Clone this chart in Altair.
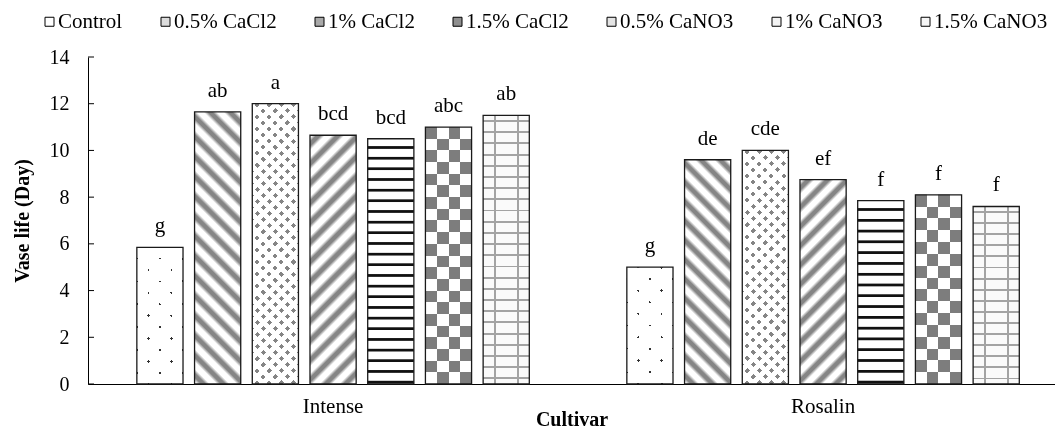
import altair as alt
import pandas as pd

# ---------------- data ----------------
cultivars = ["Intense", "Rosalin"]
treatments = ["Control", "0.5% CaCl2", "1% CaCl2", "1.5% CaCl2",
              "0.5% CaNO3", "1% CaNO3", "1.5% CaNO3"]
intense_values = [5.85, 11.65, 12.0, 10.65, 10.5, 11.0, 11.5]
rosalin_values = [5.0, 9.6, 10.0, 8.75, 7.85, 8.1, 7.6]
intense_letters = ["g", "ab", "a", "bcd", "bcd", "abc", "ab"]
rosalin_letters = ["g", "de", "cde", "ef", "f", "f", "f"]
y_ticks = [0, 2, 4, 6, 8, 10, 12, 14]
legend_fills = ["#ffffff", "#dcdcdc", "#a9a9a9", "#8f8f8f", "#e4e4e4", "#f3f3f3", "#f6f6f6"]

rows = []
for c, vals, lets in [("Intense", intense_values, intense_letters),
                      ("Rosalin", rosalin_values, rosalin_letters)]:
    for t, v, l in zip(treatments, vals, lets):
        rows.append({"Cultivar": c, "Treatment": t, "Value": v, "Letter": l})
df = pd.DataFrame(rows)
df_ticks = pd.DataFrame({"Value": y_ticks})

# ---------------- layout ----------------
W, H = 967, 327
Y_MAX = 14
X_PI, X_PO, X_ALIGN = 0.1755, 0.0745, 0.59
O_PI, O_PO = 0.2, 0.1
FONT = "Liberation Serif"

step = W / (len(cultivars) - X_PI + 2 * X_PO)
band = step * (1 - X_PI)
o_step = band / (len(treatments) - O_PI + 2 * O_PO)
BAR_W = o_step * (1 - O_PI)

# ---------------- pattern helpers (gradient textures) ----------------
def periodic_stops(n, profile):
    n = max(1, int(n))
    stops = []
    for i in range(n):
        for off, col in profile:
            stops.append({"offset": round((i + off) / n, 6), "color": col})
    return stops


def lin(x1, y1, x2, y2, stops):
    return {"gradient": "linear", "x1": x1, "y1": y1, "x2": x2, "y2": y2, "stops": stops}


def diag(w, h, n, profile, down=True):
    k = (w + h) / (w * w + h * h)
    if down:   # "\" lines
        return lin(0, 1, w * k, 1 - h * k, periodic_stops(n, profile))
    return lin(0, 0, w * k, h * k, periodic_stops(n, profile))  # "/" lines


def rows_g(n, profile):
    return lin(0, 0, 0, 1, periodic_stops(n, profile))


def cols_g(n, profile):
    return lin(0, 0, 1, 0, periodic_stops(n, profile))


def thin(line, bg, frac):
    a, b = 0.5 - frac / 2, 0.5 + frac / 2
    return [(0, bg), (a, bg), (a, line), (b, line), (b, bg), (1, bg)]


def soft(line, bg):
    return [(0, bg), (0.12, bg), (0.34, line), (0.56, line), (0.78, bg), (1, bg)]


HALF = [(0, "#000000"), (0.5, "#000000"), (0.5, "#ffffff"), (1, "#ffffff")]


def patterns(t, w, h):
    if t == "Control":
        n = round((w + h) / 22)
        f = 2.6 / ((w + h) / n)
        return [dict(fill=diag(w, h, n, thin("#333333", "#ffffff", f), True)),
                dict(fill=diag(w, h, n, thin("#333333", "#ffffff", f), False), blend="lighten")]
    if t == "0.5% CaCl2":
        return [dict(fill=diag(w, h, round((w + h) / 20), soft("#858585", "#ffffff"), True))]
    if t == "1% CaCl2":
        n = round((w + h) / 12)
        return [dict(fill=diag(w, h, n, thin("#858585", "#ffffff", 0.42), True)),
                dict(fill=diag(w, h, n, thin("#858585", "#ffffff", 0.42), False), blend="lighten")]
    if t == "1.5% CaCl2":
        return [dict(fill=diag(w, h, round((w + h) / 20), soft("#858585", "#ffffff"), False))]
    if t == "0.5% CaNO3":
        prof = [(0, "#ffffff"), (0.66, "#ffffff"), (0.7, "#555555"), (0.74, "#111111"),
                (0.9, "#111111"), (0.94, "#555555"), (0.98, "#ffffff"), (1, "#ffffff")]
        return [dict(fill=rows_g(round(h / 10.7), prof))]
    if t == "1% CaNO3":
        return [dict(fill=cols_g(round(w / 23), HALF)),
                dict(fill=rows_g(round(h / 23), HALF), blend="difference"),
                dict(fill="#ffffff", fillOpacity=0.49)]
    if t == "1.5% CaNO3":
        return [dict(fill=rows_g(round(h / 11), thin("#a3a3a3", "#fafafa", 0.17))),
                dict(fill=cols_g(round(w / 23), thin("#a3a3a3", "#ffffff", 0.08)), blend="darken")]
    return []


# ---------------- encodings ----------------
x_axis = alt.Axis(ticks=False, domainColor="black", domainWidth=1, labelAngle=0,
                  labelFont=FONT, labelFontSize=21, labelColor="black", labelPadding=11,
                  title="Cultivar", titleFont=FONT, titleFontSize=20, titleFontWeight="bold",
                  titleColor="black", titlePadding=-7, grid=False)
y_axis = alt.Axis(values=y_ticks, ticks=False, domainColor="black", domainWidth=1,
                  labelFont=FONT, labelFontSize=20, labelColor="black", labelPadding=19,
                  title="Vase life (Day)", titleFont=FONT, titleFontSize=20,
                  titleFontWeight="bold", titleColor="black", titlePadding=17, grid=False)

X = alt.X("Cultivar:N", scale=alt.Scale(domain=cultivars, paddingInner=X_PI,
                                        paddingOuter=X_PO, align=X_ALIGN), axis=x_axis)
XO = alt.XOffset("Treatment:N", scale=alt.Scale(domain=treatments, paddingInner=O_PI,
                                                paddingOuter=O_PO))
Y = alt.Y("Value:Q", scale=alt.Scale(domain=[0, Y_MAX], nice=False, zero=True), axis=y_axis)

legend = alt.Legend(orient="none", legendX=-49, legendY=-46, direction="horizontal",
                    title=None, labelFont=FONT, labelFontSize=21, labelColor="black",
                    symbolType="square", symbolSize=81, symbolStrokeColor="black",
                    symbolStrokeWidth=1, columnPadding=32, labelOffset={"expr": "-2"},
                    padding=0)

layers = []
base = alt.Chart(df).mark_bar(strokeWidth=0).encode(
    x=X, xOffset=XO, y=Y,
    fill=alt.Fill("Treatment:N", scale=alt.Scale(domain=treatments, range=legend_fills),
                  legend=legend))
layers.append(base)

for _, r in df.iterrows():
    w = BAR_W
    h = r["Value"] / Y_MAX * H
    for p in patterns(r["Treatment"], w, h):
        layer = alt.Chart(df).transform_filter(
            f"datum.Cultivar === '{r['Cultivar']}' && datum.Treatment === '{r['Treatment']}'"
        ).mark_bar(strokeWidth=0, **p).encode(x=X, xOffset=XO, y=Y)
        layers.append(layer)

outline = alt.Chart(df).mark_bar(fillOpacity=0, stroke="#1a1a1a", strokeWidth=1.3).encode(
    x=X, xOffset=XO, y=Y)
layers.append(outline)

labels = alt.Chart(df).mark_text(font=FONT, fontSize=21, dy=-15, baseline="alphabetic",
                                 color="black").encode(x=X, xOffset=XO, y=Y, text="Letter:N")
layers.append(labels)

ticks = alt.Chart(df_ticks).mark_rule(color="black", strokeWidth=1).encode(
    y=Y, x=alt.value(0), x2=alt.value(6))
layers.append(ticks)

chart = alt.layer(*layers).properties(
    width=W, height=H,
    padding={"left": 80, "top": 49, "right": 0, "bottom": 45},
    autosize=alt.AutoSizeParams(type="none"),
    background="white",
).configure_view(stroke=None)

chart.save("out.html", embed_options={"renderer": "svg", "actions": False})
